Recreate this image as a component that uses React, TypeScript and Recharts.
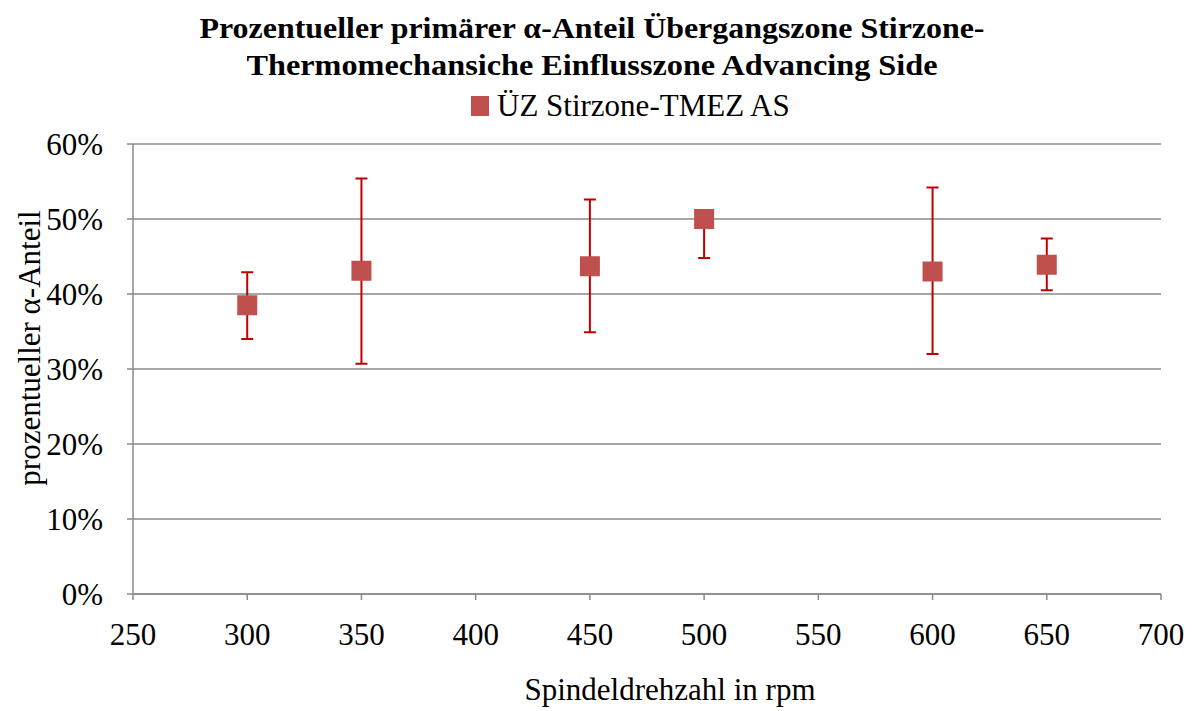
import React from 'react';
import { ScatterChart, Scatter, XAxis, YAxis, CartesianGrid, ErrorBar } from 'recharts';

const rpm = [300, 350, 450, 500, 600, 650];
const alphaShare = [38.5, 43.1, 43.7, 50.0, 43.0, 43.9];
const errLower = [4.5, 12.4, 8.8, 5.2, 11.0, 3.4];
const errUpper = [4.4, 12.3, 8.9, 0, 11.2, 3.5];
const xTicks = [250, 300, 350, 400, 450, 500, 550, 600, 650, 700];
const yTicks = [0, 10, 20, 30, 40, 50, 60];

const seriesName = 'ÜZ Stirzone-TMEZ AS';
const titleLines = [
  'Prozentueller primärer α-Anteil Übergangszone Stirzone-',
  'Thermomechansiche Einflusszone Advancing Side',
];

const data = rpm.map((x, i) => ({
  rpm: x,
  value: alphaShare[i],
  err: [errLower[i], errUpper[i]],
}));

const FONT = '"Liberation Serif", "Times New Roman", serif';
const MARKER = '#C0504D';
const GRID = '#8a8a8a';

const SquareMarker = (props: any) => {
  const { cx, cy } = props;
  if (cx == null || cy == null) return null;
  return <rect x={cx - 10} y={cy - 10} width={20} height={20} fill={MARKER} />;
};

const NoMarker = () => null;

export default function App() {
  return (
    <div style={{ position: 'relative', width: 1196, height: 711, background: '#fff' }}>
      <style>{'body{margin:0}'}</style>
      <ScatterChart width={1196} height={711} margin={{ top: 144, right: 35, bottom: 57, left: 0 }}>
        <CartesianGrid horizontal vertical={false} stroke={GRID} strokeWidth={1.5} />
        <XAxis
          type="number"
          dataKey="rpm"
          domain={[250, 700]}
          ticks={xTicks}
          interval={0}
          height={60}
          tickSize={6}
          tickMargin={23}
          axisLine={{ stroke: GRID, strokeWidth: 1.5 }}
          tickLine={{ stroke: GRID, strokeWidth: 1.5 }}
          tick={{ fill: '#000', fontSize: 31, fontFamily: FONT }}
        />
        <YAxis
          type="number"
          dataKey="value"
          domain={[0, 60]}
          ticks={yTicks}
          interval={0}
          width={133}
          tickSize={6}
          tickMargin={24}
          tickFormatter={(v: number) => `${v}%`}
          axisLine={{ stroke: GRID, strokeWidth: 1.5 }}
          tickLine={{ stroke: GRID, strokeWidth: 1.5 }}
          tick={{ fill: '#000', fontSize: 31, fontFamily: FONT }}
        />
        {/* error bars first, markers drawn on top */}
        <Scatter name="err" data={data} shape={<NoMarker />} isAnimationActive={false} legendType="none">
          <ErrorBar dataKey="err" direction="y" width={6} stroke="#C00000" strokeWidth={2} />
        </Scatter>
        <Scatter name={seriesName} data={data} fill={MARKER} shape={<SquareMarker />} isAnimationActive={false} />
      </ScatterChart>
      <svg width={1196} height={711} style={{ position: 'absolute', left: 0, top: 0, pointerEvents: 'none' }}>
        <text x={592} y={38} textAnchor="middle" fontFamily={FONT} fontWeight="bold" fontSize={30}
          textLength={785} lengthAdjust="spacingAndGlyphs">{titleLines[0]}</text>
        <text x={592} y={75} textAnchor="middle" fontFamily={FONT} fontWeight="bold" fontSize={30}
          textLength={691} lengthAdjust="spacingAndGlyphs">{titleLines[1]}</text>
        <rect x={471} y={96} width={18} height={20} fill={MARKER} />
        <text x={497} y={116} fontFamily={FONT} fontSize={31}>{seriesName}</text>
        <text x={670} y={700} textAnchor="middle" fontFamily={FONT} fontSize={31}>Spindeldrehzahl in rpm</text>
        <text x={40} y={348} textAnchor="middle" fontFamily={FONT} fontSize={31}
          transform="rotate(-90, 40, 348)">prozentueller α-Anteil</text>
      </svg>
    </div>
  );
}
